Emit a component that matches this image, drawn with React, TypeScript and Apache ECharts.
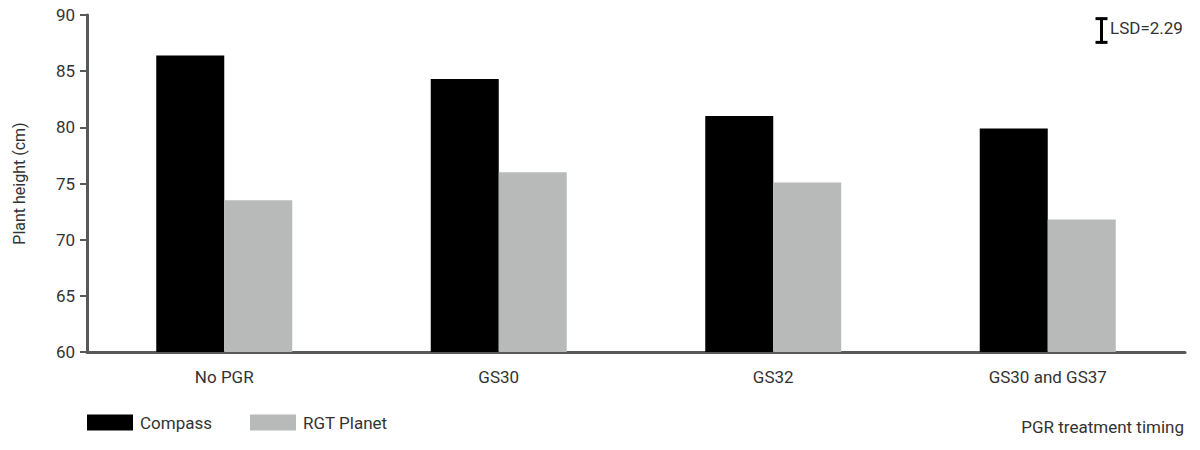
import { useEffect, useRef } from 'react';
import * as echarts from 'echarts';

const categories = ['No PGR', 'GS30', 'GS32', 'GS30 and GS37'];
const compass = [86.4, 84.3, 81.0, 79.9];
const rgtPlanet = [73.5, 76.0, 75.1, 71.8];
const lsd = 2.29;
const yMin = 60;
const yMax = 90;

const FONT = "Roboto, 'Noto Sans', sans-serif";

export default function App() {
  const chartRef = useRef(null);

  useEffect(() => {
    document.body.style.margin = '0';
    const chart = echarts.init(chartRef.current, null, { renderer: 'svg' });
    const gridTop = 15;
    const gridBottom = 98;
    const gridHeight = 450 - gridTop - gridBottom;
    const lsdPx = (lsd / (yMax - yMin)) * gridHeight;
    const option = {
      animation: false,
      textStyle: { fontFamily: FONT },
      grid: { left: 87, right: 15, top: gridTop, bottom: gridBottom },
      legend: {
        data: ['Compass', 'RGT Planet'],
        left: 87,
        top: 414,
        padding: 0,
        itemWidth: 46,
        itemHeight: 16,
        itemGap: 38,
        icon: 'rect',
        textStyle: { fontFamily: FONT, fontSize: 17, color: '#333', padding: [0, 0, 0, 2] },
      },
      xAxis: {
        type: 'category',
        data: categories,
        axisLine: { lineStyle: { color: '#58595b', width: 3 } },
        axisTick: { alignWithLabel: true, length: 6, lineStyle: { color: '#58595b', width: 3 } },
        axisLabel: { fontFamily: FONT, fontSize: 17, color: '#333', margin: 16 },
      },
      yAxis: {
        type: 'value',
        min: yMin,
        max: yMax,
        interval: 5,
        name: 'Plant height (cm)',
        nameLocation: 'middle',
        nameGap: 60,
        nameTextStyle: { fontFamily: FONT, fontSize: 16, color: '#333' },
        axisLine: { show: true, lineStyle: { color: '#58595b', width: 3 } },
        axisTick: { show: true, length: 7, lineStyle: { color: '#58595b', width: 2 } },
        axisLabel: { fontFamily: FONT, fontSize: 17, color: '#333', margin: 12 },
        splitLine: { show: false },
      },
      series: [
        {
          name: 'Compass',
          type: 'bar',
          data: compass,
          barWidth: 68,
          barGap: '0%',
          itemStyle: { color: '#000000' },
        },
        {
          name: 'RGT Planet',
          type: 'bar',
          data: rgtPlanet,
          barWidth: 68,
          itemStyle: { color: '#b8baba' },
        },
      ],
      graphic: [
        {
          type: 'group',
          left: 1093,
          top: 28 - lsdPx / 2,
          children: [
            { type: 'line', shape: { x1: 6, y1: 0, x2: 6, y2: lsdPx }, style: { stroke: '#000', lineWidth: 3 } },
            { type: 'line', shape: { x1: 0, y1: 1, x2: 12, y2: 1 }, style: { stroke: '#000', lineWidth: 3 } },
            { type: 'line', shape: { x1: 0, y1: lsdPx - 1, x2: 12, y2: lsdPx - 1 }, style: { stroke: '#000', lineWidth: 3 } },
          ],
        },
        {
          type: 'text',
          left: 1110,
          top: 19,
          style: { text: 'LSD=' + lsd.toFixed(2), fontFamily: FONT, fontSize: 17, fill: '#333' },
        },
        {
          type: 'text',
          right: 16,
          top: 418,
          style: { text: 'PGR treatment timing', fontFamily: FONT, fontSize: 17, fill: '#333' },
        },
      ],
    };
    chart.setOption(option);
    return () => {
      chart.dispose();
    };
  }, []);

  return <div ref={chartRef} style={{ width: '1200px', height: '450px' }} />;
}
